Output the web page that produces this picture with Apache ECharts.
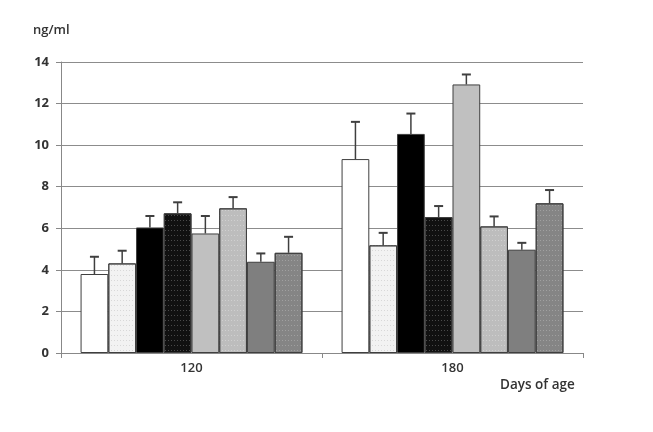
<!DOCTYPE html>
<html>
<head>
<meta charset="utf-8">
<script src="https://cdn.jsdelivr.net/npm/echarts@6/dist/echarts.min.js"></script>
<style>
  html, body { margin: 0; padding: 0; background: #fff; }
  #main { width: 653px; height: 432px; }
</style>
</head>
<body>
<div id="main"></div>
<script>
var categories = ['120', '180'];
var yTicks = [0, 2, 4, 6, 8, 10, 12, 14];

// mean values per group (8 groups), for day 120 and day 180
var g1 = [3.8, 9.33];
var g2 = [4.31, 5.18];
var g3 = [6.04, 10.54];
var g4 = [6.72, 6.54];
var g5 = [5.75, 12.92];
var g6 = [6.96, 6.09];
var g7 = [4.39, 4.97];
var g8 = [4.82, 7.2];

// top of the error bar (mean + SD)
var e1 = [4.63, 11.12];
var e2 = [4.92, 5.78];
var e3 = [6.59, 11.52];
var e4 = [7.25, 7.07];
var e5 = [6.59, 13.4];
var e6 = [7.5, 6.57];
var e7 = [4.79, 5.3];
var e8 = [5.59, 7.84];

var means = [g1, g2, g3, g4, g5, g6, g7, g8];
var errs = [e1, e2, e3, e4, e5, e6, e7, e8];

var fills = ['#ffffff', '#f2f2f2', '#000000', '#111111', '#c0c0c0', '#bdbdbd', '#7f7f7f', '#858585'];
var dotted = [false, true, false, true, false, true, false, true];
var dotColor = ['', '#d8d8d8', '', '#4a4a4a', '', '#d0d0d0', '', '#a0a0a0'];

var catGap = 0.15;
var nSeries = means.length;

var chart = echarts.init(document.getElementById('main'));

var series = [];
means.forEach(function (vals, i) {
  var item = {
    name: 'group ' + (i + 1),
    type: 'bar',
    barGap: '0%',
    barCategoryGap: (catGap * 100) + '%',
    data: vals,
    itemStyle: {
      color: fills[i],
      borderColor: '#3f3f3f',
      borderWidth: 1
    }
  };
  if (dotted[i]) {
    item.itemStyle.decal = {
      symbol: 'rect',
      symbolSize: 1,
      color: dotColor[i],
      dashArrayX: [[1, 2]],
      dashArrayY: [1, 4],
      rotation: 0
    };
  }
  series.push(item);
});

var errData = [];
errs.forEach(function (vals, i) {
  vals.forEach(function (v, c) {
    errData.push([c, means[i][c], v, i]);
  });
});

series.push({
  type: 'custom',
  name: 'sd',
  data: errData,
  encode: { x: 0, y: 2 },
  z: 3,
  renderItem: function (params, api) {
    var c = api.value(0);
    var band = api.size([1, 0])[0];
    var usable = band * (1 - catGap);
    var bw = usable / nSeries;
    var center = api.coord([c, 0]);
    var x = center[0] - usable / 2 + bw * (api.value(3) + 0.5);
    var yLow = api.coord([c, api.value(1)])[1];
    var yHigh = api.coord([c, api.value(2)])[1];
    var cap = 4.5;
    return {
      type: 'group',
      children: [
        { type: 'line', shape: { x1: x, y1: yLow, x2: x, y2: yHigh }, style: { stroke: '#3f3f3f', lineWidth: 1.5 } },
        { type: 'line', shape: { x1: x - cap, y1: yHigh, x2: x + cap, y2: yHigh }, style: { stroke: '#3f3f3f', lineWidth: 2 } }
      ]
    };
  }
});

var option = {
  backgroundColor: '#fff',
  animation: false,
  textStyle: { fontFamily: 'Open Sans' },
  grid: { left: 61, right: 70, top: 62, bottom: 79 },
  graphic: [
    { type: 'text', left: 33, top: 24, style: { text: 'ng/ml', fontSize: 13, fontWeight: 600, fill: '#333', fontFamily: 'Open Sans' } },
    { type: 'text', left: 500, top: 378, style: { text: 'Days of age', fontSize: 13.5, fontWeight: 600, fill: '#333', fontFamily: 'Open Sans' } }
  ],
  xAxis: {
    type: 'category',
    data: categories,
    axisLine: { lineStyle: { color: '#888', width: 1 } },
    axisTick: { show: true, length: 5, lineStyle: { color: '#888' } },
    axisLabel: { color: '#333', fontSize: 13, fontWeight: 600, margin: 9 }
  },
  yAxis: {
    type: 'value',
    min: 0,
    max: yTicks[yTicks.length - 1],
    interval: 2,
    axisLine: { show: true, lineStyle: { color: '#888', width: 1 } },
    axisTick: { show: true, length: 5, lineStyle: { color: '#888' } },
    axisLabel: { color: '#333', fontSize: 13, fontWeight: 'bold', margin: 12 },
    splitLine: { lineStyle: { color: '#8c8c8c', width: 1 } }
  },
  series: series
};

chart.setOption(option);
</script>
</body>
</html>
